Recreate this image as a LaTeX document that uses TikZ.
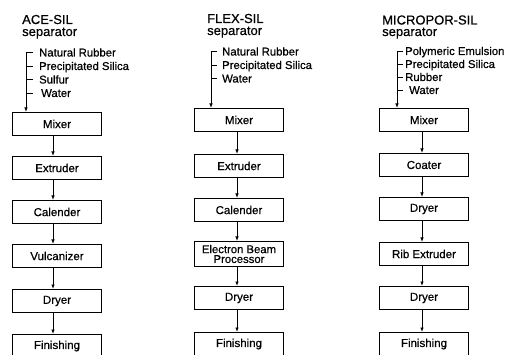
\documentclass[tikz,border=0pt]{standalone}
\usepackage{fontspec}
\setmainfont{Liberation Sans}[FakeBold=0.6]
\usetikzlibrary{arrows.meta}
\begin{document}
\begin{tikzpicture}[x=1pt,y=-1pt,
  stage/.style={draw, line width=1pt, minimum width=89pt, minimum height=23pt, inner sep=0pt, anchor=north west, font=\fontsize{11.5}{11}\selectfont},
  flow/.style={line width=0.8pt, -{Latex[length=4.5pt,width=3.5pt]}},
  tick/.style={line width=0.8pt},
  item/.style={anchor=base west, inner sep=0pt, font=\fontsize{11.3}{12}\selectfont},
  ttl/.style={anchor=base west, inner sep=0pt, font=\fontsize{13}{14}\selectfont}]
\useasboundingbox (0,0) rectangle (511,355);

% ---------------- Column 1: ACE-SIL ----------------
\node[ttl] (t1a) at (22,24) {ACE-SIL};
\node[ttl] (t1b) at (22,36) {separator};
\node[item] (i11) at (39,56.5) {Natural Rubber};
\node[item] (i12) at (39,70) {Precipitated Silica};
\node[item] (i13) at (39,83.5) {Sulfur};
\node[item] (i14) at (41,97) {Water};
\coordinate (c1) at (26,52.5);
\node[stage] (a1) at (12,112) {Mixer};
\node[stage] (a2) at (12,156) {Extruder};
\node[stage] (a3) at (12,200) {Calender};
\node[stage] (a4) at (12,244) {Vulcanizer};
\node[stage] (a5) at (12,289) {Dryer};
\node[stage] (a6) at (12,334) {Finishing};
\draw[flow] ([xshift=7pt]c1) -- (c1) -- (c1 |- a1.north);
\draw[tick] (c1 |- 0,66) -- ++(7,0);
\draw[tick] (c1 |- 0,79.5) -- ++(7,0);
\draw[tick] (c1 |- 0,93) -- ++(7,0);
\foreach \u/\v in {a1/a2,a2/a3,a3/a4,a4/a5,a5/a6}
  \draw[flow] ([xshift=-4pt]\u.south) -- ([xshift=-4pt]\v.north);

% ---------------- Column 2: FLEX-SIL ----------------
\node[ttl] (t2a) at (207,23) {FLEX-SIL};
\node[ttl] (t2b) at (207,35) {separator};
\node[item] (i21) at (222,55.5) {Natural Rubber};
\node[item] (i22) at (222,69) {Precipitated Silica};
\node[item] (i23) at (222,82.5) {Water};
\coordinate (c2) at (211,51.5);
\node[stage] (b1) at (194,108) {Mixer};
\node[stage] (b2) at (194,154) {Extruder};
\node[stage] (b3) at (194,198) {Calender};
\node[stage, minimum height=25pt, align=center, font=\fontsize{11.3}{9.8}\selectfont] (b4) at (194,241) {Electron Beam\\Processor};
\node[stage] (b5) at (194,286) {Dryer};
\node[stage] (b6) at (194,332) {Finishing};
\draw[flow] ([xshift=6pt]c2) -- (c2) -- (c2 |- b1.north);
\draw[tick] (c2 |- 0,65) -- ++(6,0);
\draw[tick] (c2 |- 0,78.5) -- ++(6,0);
\foreach \u/\v in {b1/b2,b2/b3,b3/b4,b4/b5,b5/b6}
  \draw[flow] ([xshift=-2pt]\u.south) -- ([xshift=-2pt]\v.north);

% ---------------- Column 3: MICROPOR-SIL ----------------
\node[ttl] (t3a) at (382,24.5) {MICROPOR-SIL};
\node[ttl] (t3b) at (382,36) {separator};
\node[item] (i31) at (405,55) {Polymeric Emulsion};
\node[item] (i32) at (405,68) {Precipitated Silica};
\node[item] (i33) at (405,81) {Rubber};
\node[item] (i34) at (409,94) {Water};
\coordinate (c3) at (397,51);
\node[stage] (d1) at (379,108) {Mixer};
\node[stage] (d2) at (379,153) {Coater};
\node[stage] (d3) at (379,197) {Dryer};
\node[stage] (d4) at (379,242) {Rib Extruder};
\node[stage] (d5) at (379,286) {Dryer};
\node[stage] (d6) at (379,332) {Finishing};
\draw[flow] ([xshift=6pt]c3) -- (c3) -- (c3 |- d1.north);
\draw[tick] (c3 |- 0,64) -- ++(6,0);
\draw[tick] (c3 |- 0,77) -- ++(6,0);
\draw[tick] (c3 |- 0,90) -- ++(6,0);
\foreach \u/\v in {d1/d2,d2/d3,d3/d4,d4/d5,d5/d6}
  \draw[flow] ([xshift=-2pt]\u.south) -- ([xshift=-2pt]\v.north);
\end{tikzpicture}
\end{document}
